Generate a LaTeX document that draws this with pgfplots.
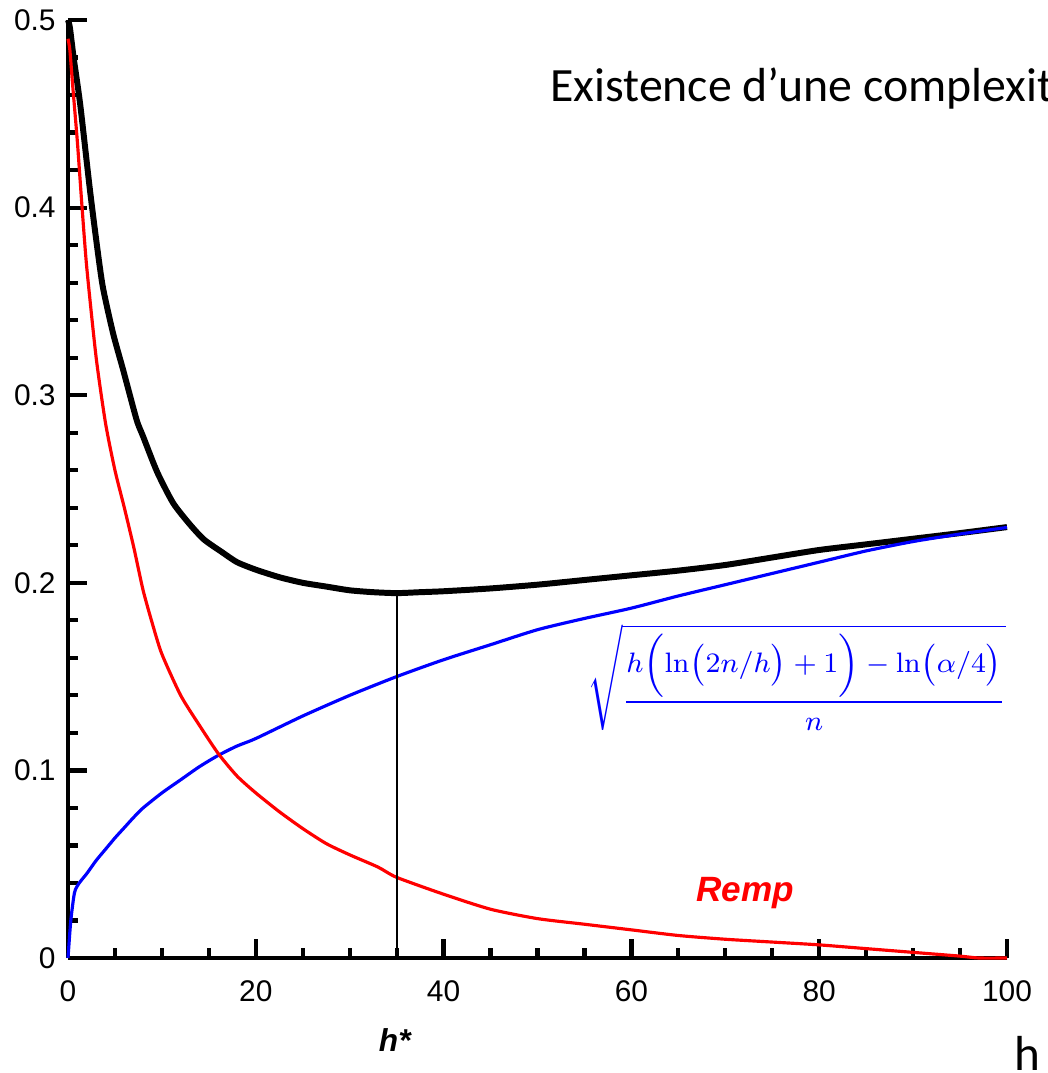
\documentclass[border=0pt]{standalone}
\usepackage[no-math]{fontspec}
\setmainfont{Liberation Sans}
\newfontfamily\carlito{Carlito}
\usepackage{pgfplots}
\pgfplotsset{compat=1.18}
\definecolor{remp}{RGB}{255,0,0}
\definecolor{bound}{RGB}{0,0,255}
\begin{document}
\begin{tikzpicture}
\useasboundingbox (-0.68cm,-1.15cm) rectangle (9.80cm,9.58cm);
\clip (-0.68cm,-1.15cm) rectangle (9.80cm,9.58cm);
\begin{axis}[
  scale only axis,
  width=9.39cm, height=9.38cm,
  xmin=0, xmax=100, ymin=0, ymax=0.5,
  axis lines*=left,
  axis line style={line width=1.3pt},
  tick align=inside,
  xtick={0,20,40,60,80,100},
  ytick={0,0.1,0.2,0.3,0.4,0.5},
  minor x tick num=3,
  minor y tick num=4,
  major tick length=0.19cm,
  minor tick length=0.1cm,
  every major tick/.append style={line width=1.2pt, black},
  every minor tick/.append style={line width=1.2pt, black},
  tick label style={font=\fontsize{8.5}{10}\selectfont},
  xticklabel style={yshift=-3pt},
  /pgf/number format/assume math mode=true,
  clip=false,
]
% sum: Remp + confidence term
\addplot[black, line width=1.7pt, smooth, tension=0.4] coordinates {
  (0,0.5) (0.2,0.496) (0.6,0.48) (1.3,0.455) (2.3,0.411) (3,0.383) (3.7,0.358)
  (4.8,0.333) (5.9,0.313) (7.3,0.287) (8,0.278) (9.5,0.259) (11.2,0.2425)
  (13,0.231) (14.5,0.223) (16.5,0.216) (18,0.211) (20,0.207) (22.5,0.203)
  (25,0.2) (27.5,0.198) (30,0.196) (32.5,0.195) (35,0.1945) (37.5,0.195)
  (40,0.1955) (45,0.197) (50,0.199) (55,0.2015) (60,0.204) (65,0.2065)
  (70,0.2095) (75,0.2135) (80,0.2175) (85,0.2205) (90,0.2235) (95,0.2265)
  (100,0.2297)
};
% confidence term
\addplot[bound, line width=0.9pt, smooth, tension=0.4] coordinates {
  (0,0) (0.3,0.02) (0.7,0.035) (1.2,0.04) (2,0.045) (3,0.052) (4,0.058)
  (5,0.064) (6,0.0695) (7,0.075) (8,0.08) (10,0.088) (12,0.095) (14,0.102)
  (16,0.108) (18,0.113) (20,0.117) (25,0.129) (30,0.14) (35,0.15) (40,0.159)
  (45,0.167) (50,0.175) (55,0.181) (60,0.1865) (65,0.193) (70,0.199)
  (75,0.205) (80,0.211) (85,0.217) (90,0.222) (95,0.226) (100,0.2295)
};
% empirical risk
\addplot[remp, line width=0.9pt, smooth, tension=0.4] coordinates {
  (0,0.49) (0.2,0.484) (0.5,0.465) (1,0.435) (1.5,0.4) (2,0.368) (3,0.32)
  (4,0.285) (5,0.26) (6,0.24) (7,0.219) (8,0.196) (9,0.178) (10,0.162)
  (12,0.14) (14,0.124) (16,0.109) (18,0.097) (20,0.088) (22.5,0.078)
  (25,0.069) (27.5,0.061) (30,0.055) (33,0.0485) (35,0.043) (40,0.034)
  (45,0.026) (50,0.021) (55,0.018) (60,0.015) (65,0.012) (70,0.01)
  (75,0.0085) (80,0.007) (85,0.005) (90,0.003) (95,0.001) (97,0) (100,0)
};
% h* marker
\addplot[black, line width=0.5pt] coordinates {(35,0) (35,0.1945)};

\node[anchor=base west, font=\carlito\fontsize{13.6}{15}\selectfont, inner sep=0pt]
  at (axis cs:51.3,0.4563) {Existence d’une complexité optimale};
\node[text=bound, font=\fontsize{7.8}{10}\selectfont] at (axis cs:77.6,0.1495)
  {$\displaystyle\sqrt{\frac{h\Bigl(\ln\bigl(2n/h\bigr)+1\Bigr)-\ln\bigl(\alpha/4\bigr)}{n}}$};
\node[text=remp, font=\bfseries\itshape\fontsize{10}{12}\selectfont] at (axis cs:72.1,0.0345) {Remp};
\node[font=\bfseries\itshape\fontsize{9}{11}\selectfont] at (axis cs:34.8,-0.0437) {h*};
\node[font=\carlito\fontsize{14}{16}\selectfont] at (axis cs:102.2,-0.051) {h};
\end{axis}
\end{tikzpicture}
\end{document}
